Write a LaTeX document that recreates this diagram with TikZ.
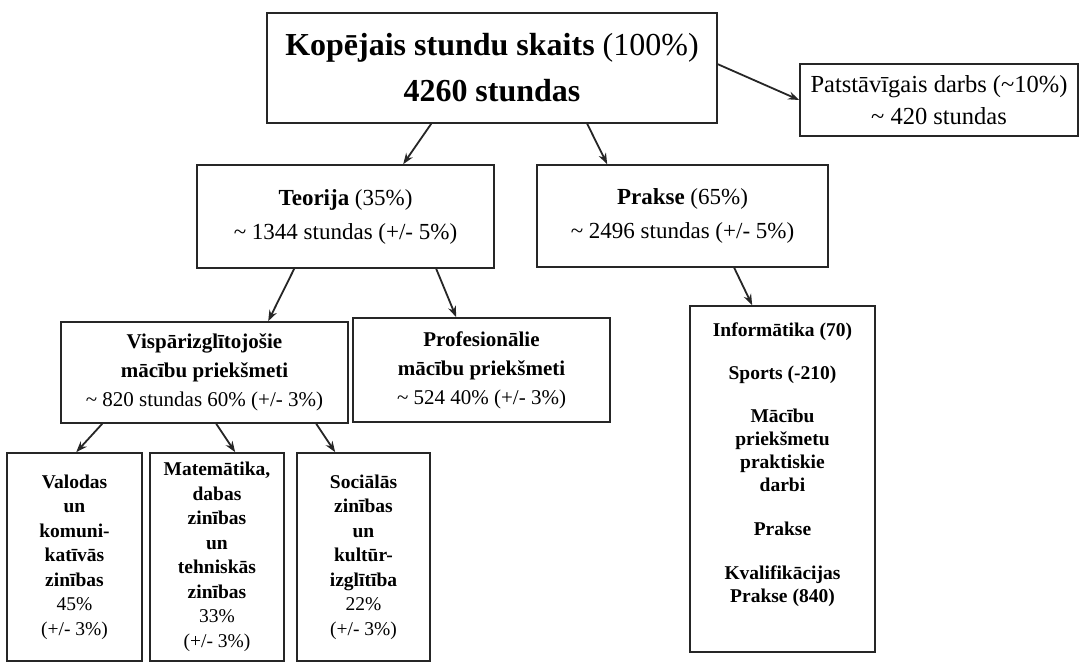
\documentclass[tikz,border=0pt]{standalone}
\usepackage{fontspec}
\setmainfont{Liberation Serif}
\usetikzlibrary{arrows.meta,calc}
\begin{document}
\begin{tikzpicture}[x=1pt,y=-1pt,
 box/.style={draw=black!85,line width=1.6pt,inner sep=0pt,align=center},
 arr/.style={draw=black!85,line width=1.8pt,-{Stealth[length=11pt,width=8pt]}},
 fbig/.style={font=\fontsize{32}{46}\selectfont},
 fmid/.style={font=\fontsize{23}{34}\selectfont},
 fvis/.style={font=\fontsize{21}{29}\selectfont},
 fsmall/.style={font=\fontsize{19.5}{24.5}\selectfont},
 fright/.style={font=\fontsize{19.5}{23}\selectfont},
]
\useasboundingbox (0,0) rectangle (1080,664);
\fill[white] (0,0) rectangle (1080,664);

\node[box,fbig,minimum width=450pt,minimum height=110pt] (top) at (492,68)
  {\textbf{Kopējais stundu skaits} (100\%)\\\textbf{4260 stundas}};
\node[box,font=\fontsize{24.5}{32}\selectfont,minimum width=278pt,minimum height=72pt] (pat) at (939,100)
  {Patstāvīgais darbs (\textasciitilde10\%)\\\textasciitilde{} 420 stundas};
\node[box,fmid,minimum width=297pt,minimum height=103pt] (teo) at (345.5,216.5)
  {\textbf{Teorija} (35\%)\\\textasciitilde{} 1344 stundas (+/- 5\%)};
\node[box,fmid,minimum width=291pt,minimum height=102pt] (pra) at (682.5,216)
  {\textbf{Prakse} (65\%)\\\textasciitilde{} 2496 stundas (+/- 5\%)};
\node[box,fvis,minimum width=287pt,minimum height=101pt] (vis) at (204.5,372.5)
  {\textbf{Vispārizglītojošie}\\\textbf{mācību priekšmeti}\\\textasciitilde{} 820 stundas 60\% (+/- 3\%)};
\node[box,fvis,minimum width=257pt,minimum height=104pt] (pro) at (481.5,370)
  {\textbf{Profesionālie}\\\textbf{mācību priekšmeti}\\\textasciitilde{} 524 40\% (+/- 3\%)};
\node[box,fsmall,minimum width=135pt,minimum height=208pt] (val) at (74.5,557)
  {\textbf{Valodas}\\\textbf{un}\\\textbf{komuni-}\\\textbf{katīvās}\\\textbf{zinības}\\45\%\\(+/- 3\%)};
\node[box,fsmall,minimum width=134pt,minimum height=208pt] (mat) at (217,557)
  {\textbf{Matemātika,}\\\textbf{dabas}\\\textbf{zinības}\\\textbf{un}\\\textbf{tehniskās}\\\textbf{zinības}\\33\%\\(+/- 3\%)};
\node[box,fsmall,minimum width=133pt,minimum height=208pt] (soc) at (363.5,557)
  {\textbf{Sociālās}\\\textbf{zinības}\\\textbf{un}\\\textbf{kultūr-}\\\textbf{izglītība}\\22\%\\(+/- 3\%)};
\node[box,minimum width=185pt,minimum height=346pt] (rb) at (782.5,479) {};
\node[fright,align=center,anchor=north,inner sep=0pt] (rbt) at (782.5,323)
  {\textbf{Informātika (70)}\\[20pt]\textbf{Sports (-210)}\\[20pt]\textbf{Mācību}\\\textbf{priekšmetu}\\\textbf{praktiskie}\\\textbf{darbi}\\[21pt]\textbf{Prakse}\\[21pt]\textbf{Kvalifikācijas}\\\textbf{Prakse (840)}};

\draw[arr] ([xshift=165pt]top.south west) -- ([xshift=207pt]teo.north west);
\draw[arr] ([xshift=321pt]top.south west) -- ([xshift=71pt]pra.north west);
\draw[arr] ([yshift=-52pt]top.north east) -- (pat.west);
\draw[arr] ([xshift=98pt]teo.south west) -- ([xshift=208pt]vis.north west);
\draw[arr] ([xshift=240pt]teo.south west) -- ([xshift=104pt]pro.north west);
\draw[arr] ([xshift=42pt]vis.south west) -- ([xshift=70pt]val.north west);
\draw[arr] ([xshift=156pt]vis.south west) -- ([xshift=86pt]mat.north west);
\draw[arr] ([xshift=256pt]vis.south west) -- ([xshift=39pt]soc.north west);
\draw[arr] ([xshift=198pt]pra.south west) -- ([xshift=63pt]rb.north west);
\end{tikzpicture}
\end{document}
